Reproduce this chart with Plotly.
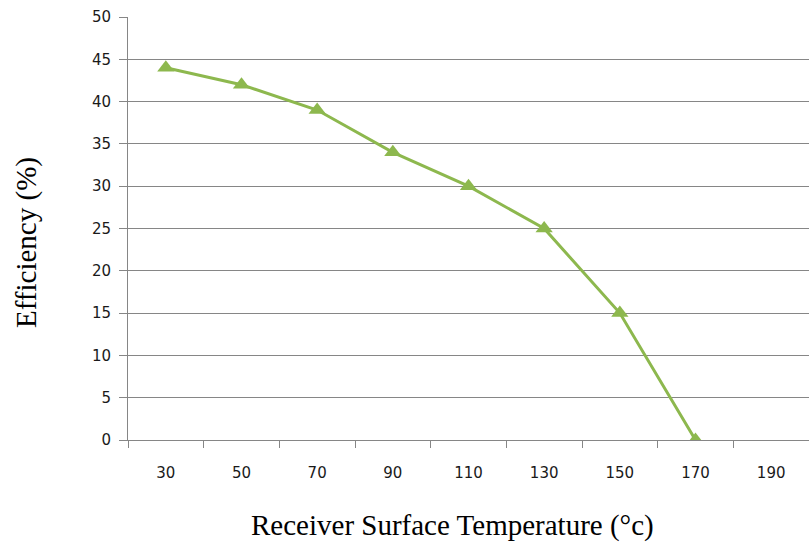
import plotly.graph_objects as go

temps = ["30", "50", "70", "90", "110", "130", "150", "170", "190"]
efficiency = [44, 42, 39, 34, 30, 25, 15, 0, None]
y_ticks = [0, 5, 10, 15, 20, 25, 30, 35, 40, 45, 50]

green = "#8DB84E"
grey = "#868686"

fig = go.Figure()
fig.add_trace(go.Scatter(
    x=temps, y=efficiency, mode="lines+markers",
    line=dict(color=green, width=3),
    marker=dict(symbol="triangle-up", size=15, color=green),
    connectgaps=False, showlegend=False,
))

tick_font = dict(family="DejaVu Sans", size=15, color="#1a1a1a")

fig.update_layout(
    width=809, height=545,
    margin=dict(l=128, r=0, t=17, b=105),
    paper_bgcolor="white", plot_bgcolor="white",
    xaxis=dict(
        type="category", categoryorder="array", categoryarray=temps,
        range=[-0.5, 8.5], tickson="boundaries",
        ticks="outside", ticklen=7, tickcolor=grey, tickwidth=1,
        showline=True, linecolor=grey, linewidth=1,
        showgrid=False, tickfont=tick_font, zeroline=False,
        ticklabelstandoff=19,
    ),
    yaxis=dict(
        range=[0, 50], tickvals=y_ticks,
        ticks="outside", ticklen=8, tickcolor=grey, tickwidth=1,
        showline=True, linecolor=grey, linewidth=1,
        showgrid=True, gridcolor=grey, gridwidth=1,
        zeroline=False, tickfont=tick_font,
        ticklabelstandoff=5,
    ),
    annotations=[
        dict(text="Receiver Surface Temperature (°c)", xref="paper", yref="paper",
             x=(452 - 128) / 681, y=-(525 - 440) / 423, xanchor="center", yanchor="middle",
             showarrow=False, font=dict(family="Liberation Serif", size=29, color="black")),
        dict(text="Efficiency (%)", xref="paper", yref="paper",
             x=-(128 - 26) / 681, y=(440 - 243) / 423, xanchor="center", yanchor="middle",
             textangle=-90, showarrow=False,
             font=dict(family="Liberation Serif", size=29, color="black")),
    ],
)

fig.write_html("out.html")
